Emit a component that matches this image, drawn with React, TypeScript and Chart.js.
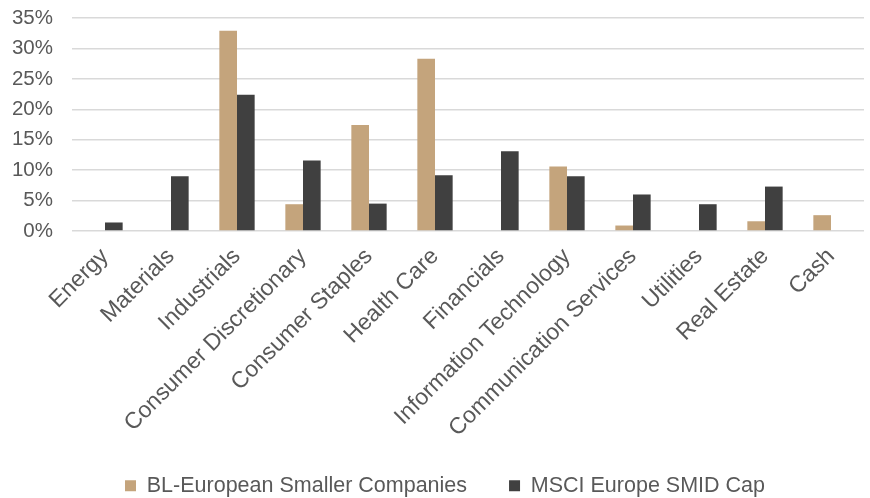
import React, { useEffect, useRef } from "react";
import { Chart, registerables } from "chart.js";

Chart.register(...registerables);

const categories = [
  "Energy",
  "Materials",
  "Industrials",
  "Consumer Discretionary",
  "Consumer Staples",
  "Health Care",
  "Financials",
  "Information Technology",
  "Communication Services",
  "Utilities",
  "Real Estate",
  "Cash",
];

const blEuropean = [0, 0, 32.9, 4.4, 17.4, 28.3, 0, 10.6, 0.9, 0, 1.6, 2.6];
const msciEurope = [1.4, 9.0, 22.4, 11.6, 4.5, 9.15, 13.1, 9.0, 6.0, 4.4, 7.3, 0];

const seriesNames = ["BL-European Smaller Companies", "MSCI Europe SMID Cap"];
const yTicks = [0, 5, 10, 15, 20, 25, 30, 35];

const LEGEND_HEIGHT = 52;
const LEGEND_SHIFT_X = 13;
const LEGEND_SHIFT_Y = -13;

const legendPatchPlugin = {
  id: "legendPatch",
  beforeLayout(chart: any) {
    const lg = chart.legend;
    if (lg && !lg.__patched) {
      const origFit = lg.fit.bind(lg);
      const origDraw = lg._draw.bind(lg);
      lg.fit = function () {
        origFit();
        this.height = LEGEND_HEIGHT;
      };
      lg._draw = function () {
        const ctx = chart.ctx;
        ctx.save();
        ctx.translate(LEGEND_SHIFT_X, LEGEND_SHIFT_Y);
        origDraw();
        ctx.restore();
      };
      lg.__patched = true;
    }
  },
};

export default function App() {
  const ref = useRef<HTMLCanvasElement | null>(null);

  useEffect(() => {
    document.body.style.margin = "0";
    if (!ref.current) return;
    const font = "'Liberation Sans', Arial, sans-serif";
    const chart = new Chart(ref.current, {
      type: "bar",
      data: {
        labels: categories,
        datasets: [
          {
            label: seriesNames[0],
            data: blEuropean,
            backgroundColor: "#C4A47C",
            barPercentage: 1,
            categoryPercentage: 0.535,
          },
          {
            label: seriesNames[1],
            data: msciEurope,
            backgroundColor: "#404040",
            barPercentage: 1,
            categoryPercentage: 0.535,
          },
        ],
      },
      plugins: [legendPatchPlugin],
      options: {
        animation: false,
        responsive: false,
        maintainAspectRatio: false,
        layout: { padding: { left: 0, right: 6, top: 18, bottom: 0 } },
        plugins: {
          legend: {
            position: "bottom",
            labels: {
              color: "#595959",
              font: { family: font, size: 21.5 },
              boxWidth: 11,
              boxHeight: 11,
              padding: 42,
            },
          },
          tooltip: { enabled: false },
        },
        scales: {
          x: {
            grid: { display: false },
            border: { display: false },
            afterFit: (scale: any) => {
              scale.height = 215;
              scale.paddingLeft = 0;
              scale.paddingRight = 0;
            },
            ticks: {
              color: "#595959",
              font: { family: font, size: 23 },
              maxRotation: 45,
              minRotation: 45,
              autoSkip: false,
              padding: 4,
            },
          },
          y: {
            min: 0,
            max: 35,
            afterBuildTicks: (axis: any) => {
              axis.ticks = yTicks.map((v) => ({ value: v }));
            },
            afterFit: (scale: any) => {
              scale.width = 72;
              scale.paddingTop = 0;
              scale.paddingBottom = 0;
            },
            grid: { color: "#D9D9D9", lineWidth: 1.5, drawTicks: false },
            border: { display: false },
            ticks: {
              color: "#595959",
              font: { family: font, size: 20.5 },
              padding: 19,
              callback: (v: any) => `${v}%`,
            },
          },
        },
      },
    });
    return () => chart.destroy();
  }, []);

  return (
    <div style={{ width: 870, height: 498 }}>
      <canvas ref={ref} width={870} height={498} style={{ width: 870, height: 498 }} />
    </div>
  );
}
